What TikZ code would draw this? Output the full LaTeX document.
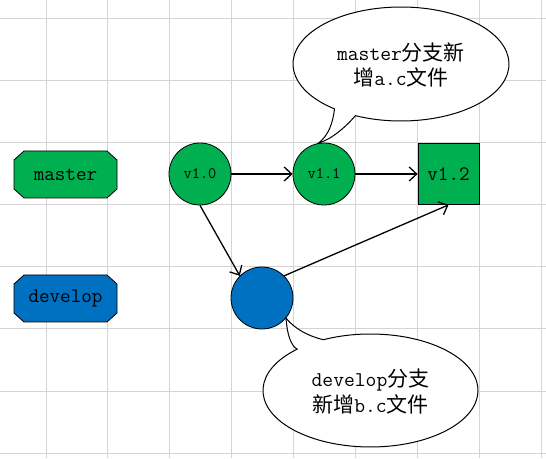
\documentclass[tikz,border=0pt]{standalone}
\usepackage{fontspec}
\newfontfamily\cjk{Noto Sans CJK SC}
\usetikzlibrary{arrows.meta,calc}
\definecolor{xgreen}{HTML}{00B050}
\definecolor{xblue}{HTML}{0070C0}
\definecolor{gridc}{HTML}{D4D4D4}
\tikzset{
  x=1pt,y=1pt,
  branch/.style={rectangle,minimum width=103pt,minimum height=47pt,inner sep=0pt,font=\ttfamily\fontsize{20.5}{24}\selectfont},
  octo/.style={draw=black,line width=0.8pt},
  commit/.style={draw=black,line width=0.8pt,circle,minimum size=62pt,inner sep=0pt,fill=xgreen,font=\ttfamily\fontsize{16}{19}\selectfont},
  sqcommit/.style={draw=black,line width=0.8pt,rectangle,minimum size=61pt,inner sep=0pt,fill=xgreen,font=\ttfamily\fontsize{20.5}{24}\selectfont},
  flow/.style={draw=black,line width=1.3pt,-{Straight Barb[length=7.5pt,width=14pt,line width=1.3pt]}},
  bubble/.style={draw=black,line width=1pt,fill=white},
  bubbletext/.style={align=center,inner sep=0pt,font=\ttfamily\fontsize{21}{25.5}\selectfont},
}
\begin{document}
\begin{tikzpicture}
\useasboundingbox (0,0) rectangle (546,458);
\fill[white] (0,0) rectangle (546,458);
% grid
\foreach \gx in {46,107.9,169.8,231.7,293.6,355.5,417.4,479.3,541.2}
  \draw[gridc,line width=1pt] (\gx,0) -- (\gx,458);
\foreach \gy in {439,377,315,253,191,129,67,5}
  \draw[gridc,line width=1pt] (0,\gy) -- (546,\gy);

% branch labels (chamfered boxes)
\foreach \nm/\col/\cy in {master/xgreen/283.5,develop/xblue/159.5}{
  \path[octo,fill=\col] (65.5-51.5+10,\cy+23.5) -- (65.5+51.5-10,\cy+23.5) -- (65.5+51.5,\cy+23.5-9)
    -- (65.5+51.5,\cy-23.5+9) -- (65.5+51.5-10,\cy-23.5) -- (65.5-51.5+10,\cy-23.5)
    -- (65.5-51.5,\cy-23.5+9) -- (65.5-51.5,\cy+23.5-9) -- cycle;
}
\node[branch] (master) at (65.5,283.5) {master};
\node[branch] (develop) at (65.5,159.5) {develop};

% commits
\node[commit] (v10) at (200,284) {v1.0};
\node[commit] (v11) at (324,284) {v1.1};
\node[sqcommit] (v12) at (448.5,284) {v1.2};
\node[commit,fill=xblue] (dev) at (262,160) {};

% connectors
\draw[flow] (v10.east) -- (v11.west);
\draw[flow] (v11.east) -- (v12.west);
\draw[flow] (v10.south) -- (dev.135);
\draw[flow] (dev.45) -- (v12.south);

% callout 1
\coordinate (c1) at (401,394);
\coordinate (t1) at (v11.100);
\draw[bubble] (t1) .. controls (329,323) and (333,336) .. ($(c1)+(232:108 and 57)$)
  arc[start angle=232,end angle=-115,x radius=108,y radius=57]
  .. controls (345,330) and (330,318) .. (t1) -- cycle;
\node[bubbletext] (note1) at (401,393) {master{\cjk 分支新}\\{\cjk 增}a.c{\cjk 文件}};

% callout 2
\coordinate (c2) at (370.5,67.5);
\coordinate (t2) at (dev.-40);
\draw[bubble] (t2) .. controls (287,124) and (291,112) .. ($(c2)+(133:107.5 and 56.5)$)
  arc[start angle=133,end angle=476,x radius=107.5,y radius=56.5]
  .. controls (308,122) and (295,129) .. (t2) -- cycle;
\node[bubbletext] (note2) at (370.5,66.5) {develop{\cjk 分支}\\{\cjk 新增}b.c{\cjk 文件}};
\end{tikzpicture}
\end{document}
